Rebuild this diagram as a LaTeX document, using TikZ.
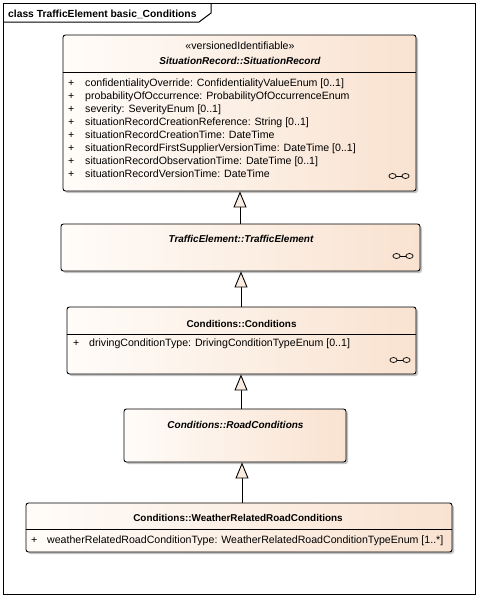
\documentclass[tikz,border=0pt]{standalone}
\usepackage{fontspec}
\setmainfont{Liberation Sans}
\usetikzlibrary{arrows.meta,shadows}
\definecolor{peach}{RGB}{249,226,208}
\definecolor{peachl}{RGB}{255,252,249}
\definecolor{shad}{RGB}{195,195,195}
\definecolor{tipfill}{RGB}{250,236,224}
\tikzset{
  umlbox/.style={draw=black, line width=0.9pt, rounded corners=2.5pt,
    left color=peachl, right color=peach, inner sep=0pt,
    drop shadow={shadow xshift=2pt, shadow yshift=-2pt, fill=shad, opacity=1}},
  divider/.style={draw=black, line width=0.9pt},
  attr/.style={inner sep=0pt, anchor=base west, font=\fontsize{10.6}{13}\selectfont},
  plus/.style={inner sep=0pt, anchor=base west, font=\fontsize{10.6}{13}\selectfont},
  stereo/.style={inner sep=0pt, anchor=base, font=\fontsize{10.6}{13}\selectfont},
  cname/.style={inner sep=0pt, anchor=base, font=\fontsize{9.9}{12}\selectfont\bfseries},
  aname/.style={inner sep=0pt, anchor=base, font=\fontsize{10}{12}\selectfont\bfseries\itshape},
  titletext/.style={inner sep=0pt, anchor=base west, font=\fontsize{10.3}{12}\selectfont\bfseries},
  gen/.style={draw=black, line width=0.9pt, -{Triangle[length=16pt,width=13pt,fill=tipfill]}},
  iconline/.style={draw=black, line width=0.7pt},
  frameline/.style={draw=black, line width=1pt}
}
\newcommand\umlnode[5]{%
  \pgfmathsetmacro\cx{(#2+#4)/2}\pgfmathsetmacro\cy{(#3+#5)/2}%
  \pgfmathsetmacro\bw{#4-#2}\pgfmathsetmacro\bh{#5-#3}%
  \node[umlbox, minimum width=\bw pt, minimum height=\bh pt] (#1) at (\cx,\cy) {};}
\newcommand\associcon[2]{%
  \draw[iconline] (#1-6.5,#2) ellipse [x radius=3.6pt, y radius=2.5pt];
  \draw[iconline] (#1+6.5,#2) ellipse [x radius=3.6pt, y radius=2.5pt];
  \draw[iconline] (#1-2.9,#2) -- (#1+2.9,#2);}
\begin{document}
\begin{tikzpicture}[x=1pt,y=-1pt]
\useasboundingbox (0,0) rectangle (478,597);
\fill[white] (0,0) rectangle (478,597);
% frame
\draw[frameline] (3,3) rectangle (475,594);
\draw[frameline] (3,22) -- (199,22) -- (211,13) -- (211,3);
\node[titletext] (title) at (8,17) {class TrafficElement basic\_Conditions};

% boxes
\umlnode{sr}{63}{35}{416}{191}
\umlnode{te}{61}{224}{420}{271}
\umlnode{cond}{67}{307}{416}{374}
\umlnode{rc}{124}{409}{346}{462}
\umlnode{wrrc}{26}{503}{452}{552}

\coordinate (d1) at (0,72);
\coordinate (d2) at (0,334);
\coordinate (d3) at (0,529);
\draw[divider] (sr.west |- d1) -- (sr.east |- d1);
\draw[divider] (cond.west |- d2) -- (cond.east |- d2);
\draw[divider] (wrrc.west |- d3) -- (wrrc.east |- d3);

% SituationRecord
\node[stereo] (srst) at (240,49.5) {«versionedIdentifiable»};
\node[aname] (srn) at (240,64) {SituationRecord::SituationRecord};
\foreach \t [count=\i from 0] in {
  {confidentialityOverride: ConfidentialityValueEnum [0..1]},
  {probabilityOfOccurrence: ProbabilityOfOccurrenceEnum},
  {severity: SeverityEnum [0..1]},
  {situationRecordCreationReference: String [0..1]},
  {situationRecordCreationTime: DateTime},
  {situationRecordFirstSupplierVersionTime: DateTime [0..1]},
  {situationRecordObservationTime: DateTime [0..1]},
  {situationRecordVersionTime: DateTime}}{
  \node[plus] (srp\i) at (68,86.5+13*\i) {+};
  \node[attr] (sra\i) at (85,86.5+13*\i) {\t};
}
\associcon{399}{176}

% TrafficElement
\node[aname] (ten) at (241,242) {TrafficElement::TrafficElement};
\associcon{403}{256}

% Conditions
\node[cname] (condn) at (241.5,327) {Conditions::Conditions};
\node[plus] (condp) at (73,346.5) {+};
\node[attr] (conda) at (89,346.5) {drivingConditionType: DrivingConditionTypeEnum [0..1]};
\associcon{400}{360}

% RoadConditions
\node[aname] (rcn) at (235.5,428) {Conditions::RoadConditions};

% WeatherRelatedRoadConditions
\node[cname] (wrrcn) at (238,521.5) {Conditions::WeatherRelatedRoadConditions};
\node[plus] (wrrcp) at (31,543.5) {+};
\node[attr] (wrrca) at (47,543.5) {weatherRelatedRoadConditionType: WeatherRelatedRoadConditionTypeEnum [1..*]};

% generalizations
\coordinate (ax1) at (240,0);
\coordinate (ax2) at (241,0);
\coordinate (ax3) at (241,0);
\coordinate (ax4) at (242,0);
\draw[gen] (te.north -| ax1) -- (sr.south -| ax1);
\draw[gen] (cond.north -| ax2) -- (te.south -| ax2);
\draw[gen] (rc.north -| ax3) -- (cond.south -| ax3);
\draw[gen] (wrrc.north -| ax4) -- (rc.south -| ax4);
\end{tikzpicture}
\end{document}
